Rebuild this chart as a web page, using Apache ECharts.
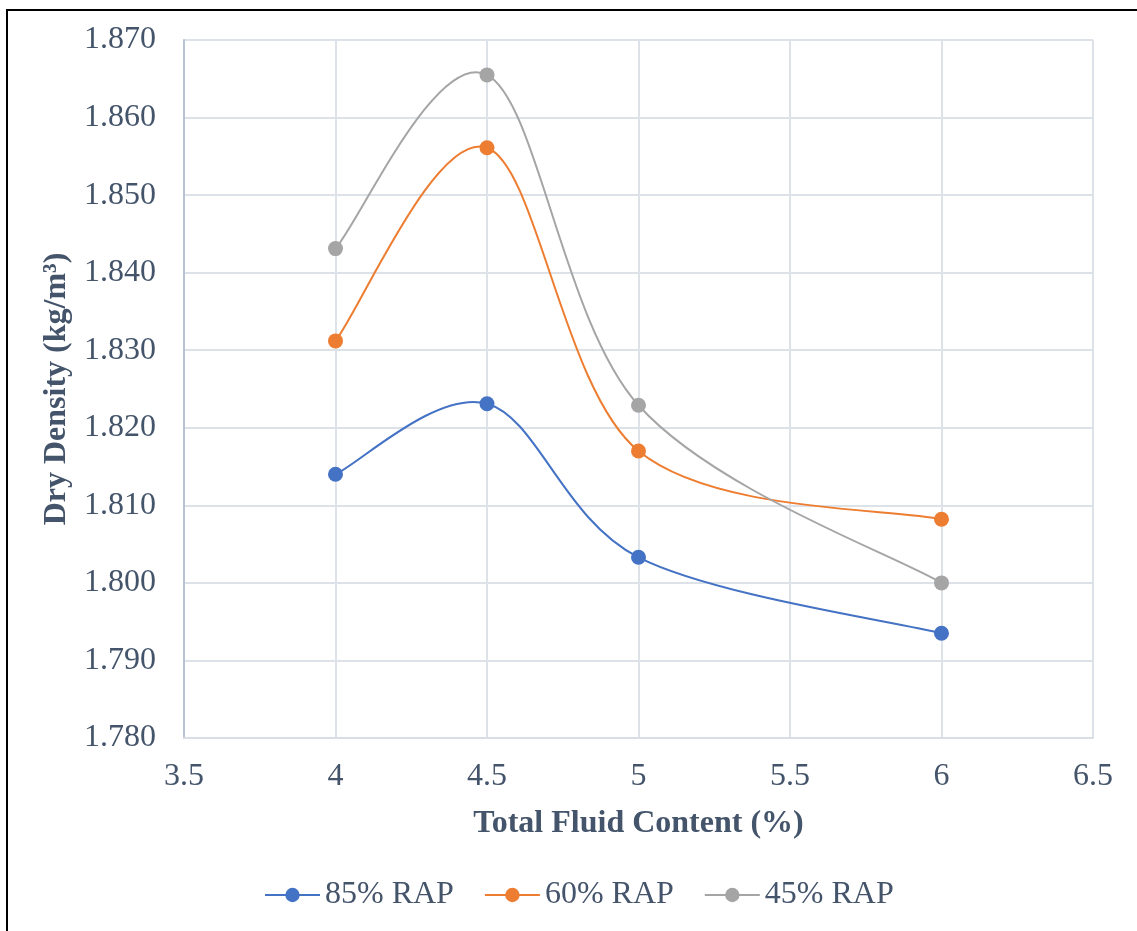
<!DOCTYPE html>
<html><head><meta charset="utf-8">
<script src="https://cdn.jsdelivr.net/npm/echarts@6/dist/echarts.min.js"></script>
<style>
html,body{margin:0;padding:0;background:#fff;}
#frame{position:absolute;left:6px;top:9px;width:1140px;height:930px;border-left:2px solid #000;border-top:2px solid #000;box-sizing:border-box;}
#c{position:absolute;left:0;top:0;width:1137px;height:931px;}
</style></head>
<body>
<div id="frame"></div>
<div id="c"></div>
<script>
const xValues = [4, 4.5, 5, 6];
const seriesNames = ['85% RAP', '60% RAP', '45% RAP'];
const rap85 = [1.8140, 1.8231, 1.8033, 1.7935];
const rap60 = [1.8312, 1.8561, 1.8170, 1.8082];
const rap45 = [1.8431, 1.8655, 1.8229, 1.8000];
const colors = ['#4472C4', '#ED7D31', '#A5A5A5'];

const txt = '#44546A';
const font = 'Liberation Serif';
function pairs(ys){ return xValues.map((x,i)=>[x, ys[i]]); }
const chart = echarts.init(document.getElementById('c'), null, {renderer:'canvas'});
const allData = [rap85, rap60, rap45].map(pairs);

// Excel-style smoothed curve: cubic Bezier segments, tangent = (P[i+1]-P[i-1])/6 in pixel space
function curveSeries(k){
  const data = allData[k];
  return {
    name: seriesNames[k] + ' curve', type:'custom', data: data, z: 2 + k,
    silent: true,
    renderItem: function(params, api){
      const i = params.dataIndex;
      if (i >= data.length - 1) return null;
      const P = j => api.coord(data[Math.max(0, Math.min(data.length-1, j))]);
      const p0 = P(i-1), p1 = P(i), p2 = P(i+1), p3 = P(i+2);
      const cp1 = [p1[0] + (p2[0]-p0[0])/6, p1[1] + (p2[1]-p0[1])/6];
      const cp2 = [p2[0] - (p3[0]-p1[0])/6, p2[1] - (p3[1]-p1[1])/6];
      return {type:'bezierCurve',
        shape:{x1:p1[0], y1:p1[1], x2:p2[0], y2:p2[1], cpx1:cp1[0], cpy1:cp1[1], cpx2:cp2[0], cpy2:cp2[1]},
        style:{stroke: colors[k], lineWidth: 2, fill: null}};
    }
  };
}
const markerSeries = allData.map((d,i)=>({
  name: seriesNames[i], type:'line', data: d, smooth: false,
  symbol:'circle', symbolSize:15,
  itemStyle:{color:colors[i]},
  lineStyle:{color:colors[i], width:2, opacity:0},
  z: 10 + i
}));
chart.setOption({
  backgroundColor:'transparent',
  animation:false,
  textStyle:{fontFamily:font},
  grid:{left:184, right:44, top:40, bottom:193, containLabel:false},
  xAxis:{type:'value', min:3.5, max:6.5, interval:0.5,
    name:'Total Fluid Content (%)', nameLocation:'middle', nameGap:70,
    nameTextStyle:{color:txt, fontSize:32, fontWeight:'bold', fontFamily:font},
    axisLine:{show:true, lineStyle:{color:'#D9DEE6', width:2}},
    axisTick:{show:false},
    axisLabel:{color:txt, fontSize:32, fontFamily:font, margin:23},
    splitLine:{show:true, lineStyle:{color:'#DDE2E8', width:2}}
  },
  yAxis:{type:'value', min:1.78, max:1.87, interval:0.01,
    name:'Dry Density (kg/m³)', nameLocation:'middle', nameGap:108,
    nameTextStyle:{color:txt, fontSize:32, fontWeight:'bold', fontFamily:font},
    axisLine:{show:true, lineStyle:{color:'#B8C3D1', width:2}},
    axisTick:{show:false},
    axisLabel:{color:txt, fontSize:32, fontFamily:font, margin:28, formatter:v=>v.toFixed(3)},
    splitLine:{show:true, lineStyle:{color:'#DDE2E8', width:2}}
  },
  legend:{bottom:15, left:259, itemGap:30, itemWidth:55, itemHeight:18,
    lineStyle:{opacity:1, width:2},
    textStyle:{color:txt, fontSize:32, fontFamily:font},
    data: seriesNames},
  series: allData.map((d,k)=>curveSeries(k)).concat(markerSeries)
});
</script>
</body></html>
